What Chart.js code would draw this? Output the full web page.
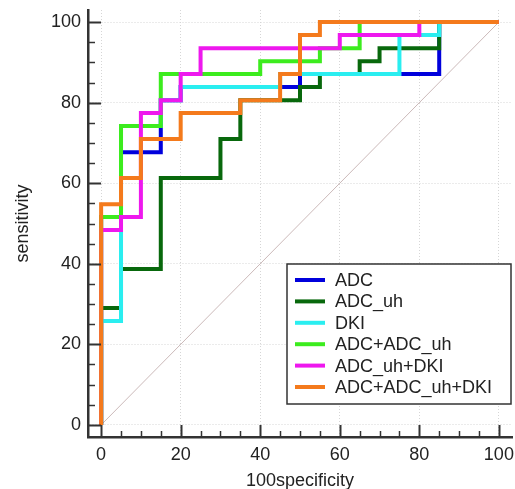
<!DOCTYPE html>
<html>
<head>
<meta charset="utf-8">
<script src="https://cdn.jsdelivr.net/npm/chart.js@4/dist/chart.umd.min.js"></script>
<style>
  body { margin: 0; background: #fff; }
  canvas { display: block; }
</style>
</head>
<body>
<canvas id="roc-chart" width="515" height="489"></canvas>
<script>
// ROC curves: x = 100 - specificity, y = sensitivity (both %)
const seriesNames = ['ADC', 'ADC_uh', 'DKI', 'ADC+ADC_uh', 'ADC_uh+DKI', 'ADC+ADC_uh+DKI'];
const seriesColors = ['#0000dc', '#08680c', '#2aeef0', '#3cec1e', '#ee18ee', '#f47a1c'];

const adcX = [0, 0, 5, 5, 15, 15, 20, 20, 50, 50, 85, 85, 100];
const adcY = [0, 51.6, 51.6, 67.7, 67.7, 80.6, 80.6, 83.9, 83.9, 87.1, 87.1, 100, 100];

const adcUhX = [0, 0, 5, 5, 15, 15, 30, 30, 35, 35, 50, 50, 55, 55, 65, 65, 70, 70, 85, 85, 100];
const adcUhY = [0, 29.0, 29.0, 38.7, 38.7, 61.3, 61.3, 71.0, 71.0, 80.6, 80.6, 83.9, 83.9, 87.1, 87.1, 90.3, 90.3, 93.5, 93.5, 100, 100];

const dkiX = [0, 0, 5, 5, 15, 15, 20, 20, 45, 45, 75, 75, 85, 85, 100];
const dkiY = [0, 25.8, 25.8, 74.2, 74.2, 80.6, 80.6, 83.9, 83.9, 87.1, 87.1, 96.8, 96.8, 100, 100];

const adcAdcUhX = [0, 0, 5, 5, 15, 15, 40, 40, 55, 55, 65, 65, 100];
const adcAdcUhY = [0, 51.6, 51.6, 74.2, 74.2, 87.1, 87.1, 90.3, 90.3, 93.5, 93.5, 100, 100];

const adcUhDkiX = [0, 0, 5, 5, 10, 10, 15, 15, 20, 20, 25, 25, 60, 60, 80, 80, 100];
const adcUhDkiY = [0, 48.4, 48.4, 51.6, 51.6, 77.4, 77.4, 80.6, 80.6, 87.1, 87.1, 93.5, 93.5, 96.8, 96.8, 100, 100];

const allX = [0, 0, 5, 5, 10, 10, 20, 20, 35, 35, 45, 45, 50, 50, 55, 55, 100];
const allY = [0, 54.8, 54.8, 61.3, 61.3, 71.0, 71.0, 77.4, 77.4, 80.6, 80.6, 87.1, 87.1, 96.8, 96.8, 100, 100];

const diagonalX = [0, 100];
const diagonalY = [0, 100];

const tickValues = [0, 5, 10, 15, 20, 25, 30, 35, 40, 45, 50, 55, 60, 65, 70, 75, 80, 85, 90, 95, 100];

function toPoints(xs, ys) {
    return xs.map((x, i) => ({ x: x, y: ys[i] }));
}

const curveData = [
    toPoints(adcX, adcY),
    toPoints(adcUhX, adcUhY),
    toPoints(dkiX, dkiY),
    toPoints(adcAdcUhX, adcAdcUhY),
    toPoints(adcUhDkiX, adcUhDkiY),
    toPoints(allX, allY)
];

const datasets = curveData.map((pts, i) => ({
    label: seriesNames[i],
    data: pts,
    borderColor: seriesColors[i],
    borderWidth: 4,
    borderJoinStyle: 'miter',
    borderCapStyle: 'butt',
    pointRadius: 0,
    tension: 0,
    fill: false,
    order: seriesNames.length - i  // later series on top
}));

datasets.push({
    label: 'diagonal',
    data: toPoints(diagonalX, diagonalY),
    borderColor: '#cbb9b9',
    borderWidth: 1,
    pointRadius: 0,
    fill: false,
    order: 100
});

const FONT = "'Liberation Sans', Arial, sans-serif";

// inward tick marks (major every 20, minor every 5)
const innerTicks = {
    id: 'innerTicks',
    afterDraw(chart) {
        const { ctx, chartArea, scales } = chart;
        ctx.save();
        ctx.strokeStyle = '#333';
        tickValues.forEach(v => {
            const major = v % 20 === 0;
            ctx.lineWidth = major ? 2 : 1.5;
            const px = Math.round(scales.x.getPixelForValue(v)) + 0.5;
            ctx.beginPath();
            ctx.moveTo(px, chartArea.bottom);
            ctx.lineTo(px, chartArea.bottom - (major ? 12 : 6));
            ctx.stroke();
            const py = Math.round(scales.y.getPixelForValue(v)) + 0.5;
            ctx.beginPath();
            ctx.moveTo(chartArea.left, py);
            ctx.lineTo(chartArea.left + (major ? 13 : 7), py);
            ctx.stroke();
        });
        ctx.restore();
    }
};

// boxed legend in lower right of the plot
const boxLegend = {
    id: 'boxLegend',
    afterDraw(chart) {
        const { ctx } = chart;
        const left = 287, top = 264, w = 224, h = 140;
        ctx.save();
        ctx.fillStyle = '#fff';
        ctx.fillRect(left, top, w, h);
        ctx.strokeStyle = '#333';
        ctx.lineWidth = 1.5;
        ctx.strokeRect(left, top, w, h);
        ctx.font = '18px ' + FONT;
        ctx.textBaseline = 'middle';
        seriesNames.forEach((name, i) => {
            const y = top + 16 + i * 21.4;
            ctx.strokeStyle = seriesColors[i];
            ctx.lineWidth = 4;
            ctx.beginPath();
            ctx.moveTo(left + 8, y);
            ctx.lineTo(left + 38, y);
            ctx.stroke();
            ctx.fillStyle = '#222';
            ctx.fillText(name, left + 48, y + 1);
        });
        ctx.restore();
    }
};

function gridColor(c) {
    return c.tick && c.tick.value % 20 === 0 ? '#d6d6d6' : 'rgba(0,0,0,0)';
}

const ctx = document.getElementById('roc-chart').getContext('2d');
const rocChart = new Chart(ctx, {
    type: 'line',
    data: { datasets: datasets },
    options: {
        responsive: false,
        animation: false,
        layout: { padding: { top: 10, right: 3, left: 0, bottom: 0 } },
        plugins: {
            legend: { display: false },
            tooltip: { enabled: false }
        },
        scales: {
            x: {
                type: 'linear',
                min: -3.3,
                max: 103.3,
                afterFit: scale => {
                    scale.height = 52;
                    scale.paddingLeft = 0;
                    scale.paddingRight = 0;
                },
                afterBuildTicks: scale => { scale.ticks = tickValues.map(v => ({ value: v })); },
                ticks: {
                    autoSkip: false,
                    maxRotation: 0,
                    padding: 7,
                    color: '#222',
                    font: { family: FONT, size: 18 },
                    callback: v => (v % 20 === 0 ? v : '')
                },
                grid: {
                    drawTicks: false,
                    color: gridColor,
                    lineWidth: 1
                },
                border: { display: true, color: '#333', width: 2.5, dash: [1, 2] },
                title: {
                    display: true,
                    text: '100specificity',
                    color: '#222',
                    font: { family: FONT, size: 18, lineHeight: 1 },
                    padding: { top: 0, bottom: -1 }
                }
            },
            y: {
                type: 'linear',
                min: -3,
                max: 103,
                afterFit: scale => {
                    scale.width = 88;
                    scale.paddingTop = 0;
                    scale.paddingBottom = 0;
                },
                afterBuildTicks: scale => { scale.ticks = tickValues.map(v => ({ value: v })); },
                ticks: {
                    autoSkip: false,
                    padding: 7,
                    color: '#222',
                    font: { family: FONT, size: 18 },
                    callback: v => (v % 20 === 0 ? v : '')
                },
                grid: {
                    drawTicks: false,
                    color: gridColor,
                    lineWidth: 1
                },
                border: { display: true, color: '#333', width: 2.5, dash: [1, 2] },
                title: {
                    display: true,
                    text: 'sensitivity',
                    color: '#222',
                    font: { family: FONT, size: 18, lineHeight: 1 },
                    padding: { top: 14, bottom: 0 }
                }
            }
        }
    },
    plugins: [innerTicks, boxLegend]
});
</script>
</body>
</html>
